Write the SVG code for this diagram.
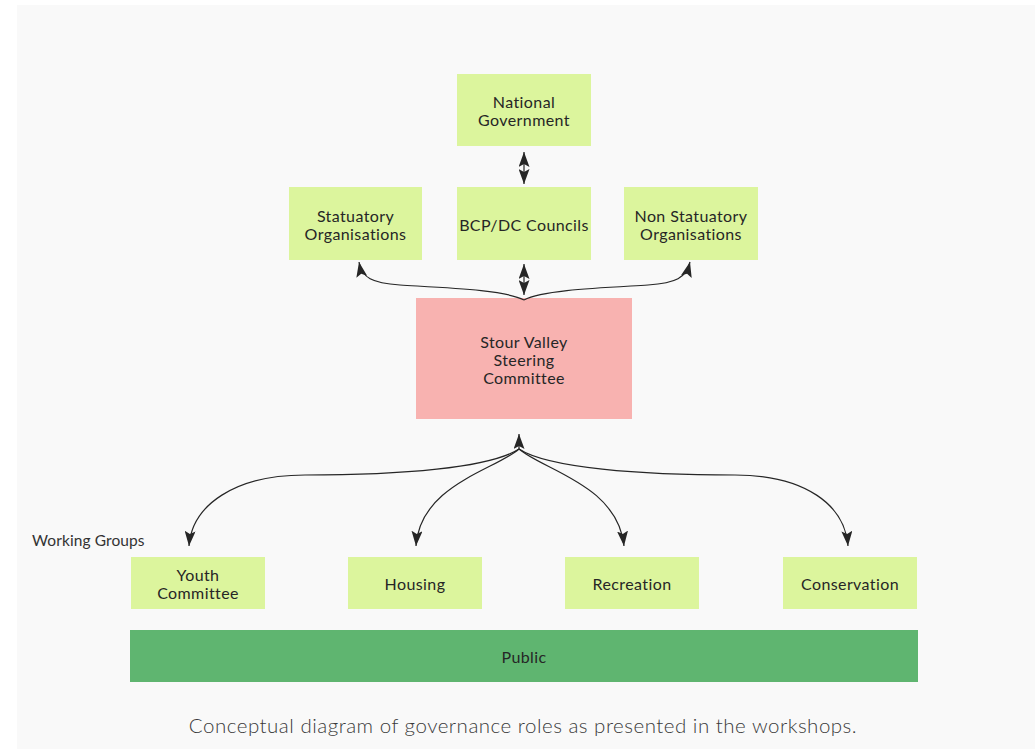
<svg xmlns="http://www.w3.org/2000/svg" width="1035" height="749" viewBox="0 0 1035 749">
  <style>
    .box { fill: #dcf59d; }
    .lbl { font-family: Lato, "Liberation Sans", sans-serif; font-size: 16px; letter-spacing: 0.4px; fill: #262626; text-anchor: middle; dominant-baseline: central; }
    .link { fill: none; stroke: #262626; stroke-width: 1.2; }
    .cap { font-family: Lato, "Liberation Sans", sans-serif; font-weight: 300; font-size: 20.5px; letter-spacing: 0.5px; fill: #3a3a3a; text-anchor: middle; }
  </style>
  <defs>
    <marker id="head" viewBox="0 0 15 11" refX="15" refY="5.5" markerWidth="15" markerHeight="11" markerUnits="userSpaceOnUse" orient="auto-start-reverse">
      <path d="M0 0 L15 5.5 L0 11 L3 5.5 Z" fill="#262626"/>
    </marker>
  </defs>

  <rect x="0" y="0" width="1035" height="749" fill="#ffffff"/>
  <rect x="17" y="5" width="1018" height="744" fill="#f9f9f9"/>

  <g id="national-government">
    <rect class="box" x="457" y="74" width="134" height="72"/>
    <text class="lbl" x="524" y="101.5">National</text>
    <text class="lbl" x="524" y="119.5">Government</text>
  </g>
  <g id="statutory-organisations">
    <rect class="box" x="289" y="187" width="133" height="73"/>
    <text class="lbl" x="355.5" y="215.5">Statuatory</text>
    <text class="lbl" x="355.5" y="233.5">Organisations</text>
  </g>
  <g id="councils">
    <rect class="box" x="457" y="187" width="134" height="73"/>
    <text class="lbl" x="524" y="224.5">BCP/DC Councils</text>
  </g>
  <g id="non-statutory-organisations">
    <rect class="box" x="624" y="187" width="134" height="73"/>
    <text class="lbl" x="691" y="215.5">Non Statuatory</text>
    <text class="lbl" x="691" y="233.5">Organisations</text>
  </g>
  <g id="steering-committee">
    <rect x="416" y="298" width="216" height="121" fill="#f8b2b0"/>
    <text class="lbl" x="524" y="341.5">Stour Valley</text>
    <text class="lbl" x="524" y="359.5">Steering</text>
    <text class="lbl" x="524" y="377.5">Committee</text>
  </g>

  <text x="32" y="546" font-family="Lato, 'Liberation Sans', sans-serif" font-size="15.5px" letter-spacing="0.1" fill="#333333">Working Groups</text>

  <g id="youth-committee">
    <rect class="box" x="131" y="557" width="134" height="52"/>
    <text class="lbl" x="198" y="574.5">Youth</text>
    <text class="lbl" x="198" y="592.5">Committee</text>
  </g>
  <g id="housing">
    <rect class="box" x="348" y="557" width="134" height="52"/>
    <text class="lbl" x="415" y="583.5">Housing</text>
  </g>
  <g id="recreation">
    <rect class="box" x="565" y="557" width="134" height="52"/>
    <text class="lbl" x="632" y="583.5">Recreation</text>
  </g>
  <g id="conservation">
    <rect class="box" x="783" y="557" width="134" height="52"/>
    <text class="lbl" x="850" y="583.5">Conservation</text>
  </g>
  <g id="public">
    <rect x="130" y="630" width="788" height="52" fill="#5fb570"/>
    <text class="lbl" x="524" y="656.5">Public</text>
  </g>

  <g id="connectors">
    <!-- two-way links on the central spine -->
    <line class="link" x1="524" y1="152" x2="524" y2="184" marker-start="url(#head)" marker-end="url(#head)"/>
    <line class="link" x1="524" y1="264" x2="524" y2="295" marker-start="url(#head)" marker-end="url(#head)"/>
    <!-- committee to the partner organisations -->
    <path class="link" d="M524 300 C505 290 450 288 400 285 C372 283 362 278 359 262" marker-end="url(#head)"/>
    <path class="link" d="M524 300 C543 290 598 288 648 285 C676 283 686 278 690 262" marker-end="url(#head)"/>
    <!-- committee hub above the working groups -->
    <line class="link" x1="519" y1="449" x2="519" y2="434" marker-end="url(#head)"/>
    <path class="link" d="M519 449 C490 468 400 475 305 475 C235 475 192 505 189 546" marker-end="url(#head)"/>
    <path class="link" d="M519 449 C495 470 420 485 416 546" marker-end="url(#head)"/>
    <path class="link" d="M519 449 C543 470 618 485 624 546" marker-end="url(#head)"/>
    <path class="link" d="M519 449 C548 468 640 475 735 475 C805 475 845 505 848 546" marker-end="url(#head)"/>
  </g>

  <text class="cap" x="523" y="733">Conceptual diagram of governance roles as presented in the workshops.</text>
</svg>
